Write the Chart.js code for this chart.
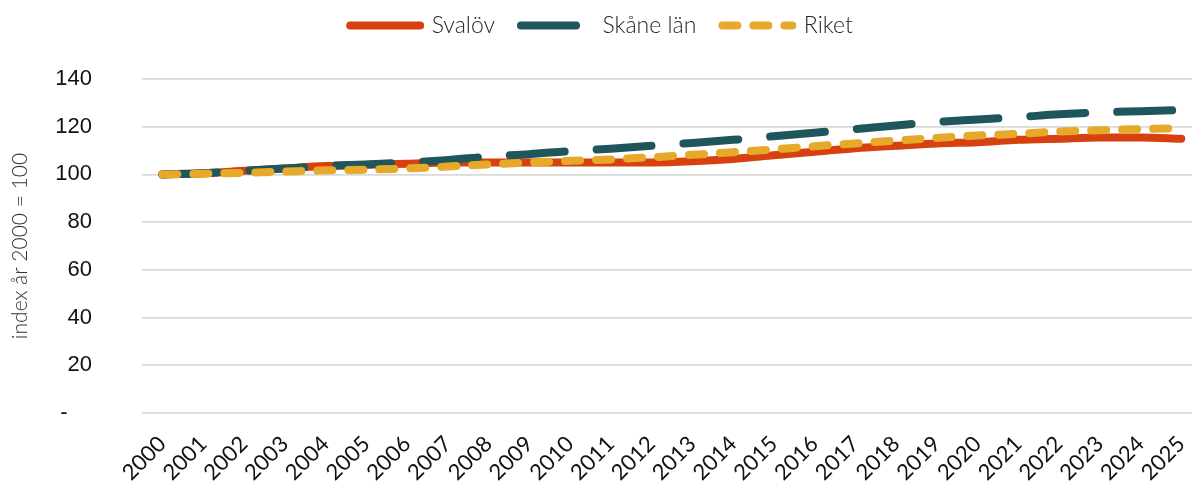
<!DOCTYPE html>
<html>
<head>
<meta charset="utf-8">
<script src="https://cdn.jsdelivr.net/npm/chart.js@4.4.1/dist/chart.umd.min.js"></script>
<style>
  html, body { margin: 0; padding: 0; background: #fff; overflow: hidden; }
  /* plot area runs a little past the right edge, as in the original export */
  #wrap { width: 1210px; height: 484px; }
</style>
</head>
<body>
<div id="wrap"><canvas id="chart"></canvas></div>
<script>
/* ================= DATA ================= */
const years = ['2000', '2001', '2002', '2003', '2004', '2005', '2006', '2007', '2008', '2009',
    '2010', '2011', '2012', '2013', '2014', '2015', '2016', '2017', '2018', '2019',
    '2020', '2021', '2022', '2023', '2024', '2025'];

const svalov = [100, 100.5, 101.5, 102.5, 103.5, 104, 104.5, 105, 105, 105,
    105, 105, 105, 105.5, 106.5, 108, 109.5, 111, 112, 113,
    113.5, 114.5, 115, 115.5, 115.5, 115];

const skane = [100, 100.5, 101.5, 102.5, 103.5, 104.2, 105, 106, 107.5, 108.5,
    109.8, 110.8, 112, 113.2, 114.5, 116, 117.5, 119, 120.5, 122,
    123, 124, 125.2, 126, 126.5, 127];

const riket = [100, 100.3, 100.7, 101.2, 101.7, 102, 102.5, 103.3, 104.2, 105,
    105.7, 106.3, 107.2, 108.2, 109.3, 110.5, 111.8, 113, 114.2, 115.3,
    116.3, 117, 118, 118.5, 119, 119.3];

const yTicks = [0, 20, 40, 60, 80, 100, 120, 140];

/* ================= CHART ================= */
const lightFont = '"Lato", "Open Sans", sans-serif';
const LEGEND_LIFT = 32;
const LEGEND_SHIFT = -6;
const X_AXIS_HEIGHT = 71;
const Y_AXIS_WIDTH = 134;

function lineSet(label, data, color, dash, order) {
    return {
        label,
        data,
        borderColor: color,
        backgroundColor: color,
        borderWidth: 8,
        borderDash: dash,
        borderCapStyle: 'round',
        pointRadius: 0,
        pointStyle: 'line',
        tension: 0.4,
        cubicInterpolationMode: 'monotone',
        fill: false,
        order
    };
}

// legend samples need the dataset's dash + round caps
function legendLabels(chart) {
    return chart.data.datasets.map((ds, i) => ({
        text: ds.label,
        datasetIndex: i,
        strokeStyle: ds.borderColor,
        fillStyle: ds.borderColor,
        lineWidth: ds.borderWidth,
        lineDash: ds.borderDash,
        lineCap: 'round',
        pointStyle: 'line',
        fontColor: '#262626',
        hidden: false
    }));
}

const moveLegend = {
    id: 'moveLegend',
    afterLayout(chart) {
        const lg = chart.legend;
        lg.top -= LEGEND_LIFT;
        lg.bottom -= LEGEND_LIFT;
        lg.left += LEGEND_SHIFT;
        lg.right += LEGEND_SHIFT;
    }
};

new Chart(document.getElementById('chart'), {
    type: 'line',
    data: {
        labels: years,
        datasets: [
            lineSet('Svalöv', svalov, '#D7410F', [], 2),
            lineSet('Skåne län', skane, '#1F565B', [55, 32], 1),
            lineSet('Riket', riket, '#E6A92A', [15, 16], 0)
        ]
    },
    plugins: [moveLegend],
    options: {
        responsive: true,
        maintainAspectRatio: false,
        animation: false,
        layout: { padding: { left: 8, right: 3, top: 20, bottom: 0 } },
        plugins: {
            legend: {
                position: 'top',
                labels: {
                    usePointStyle: true,
                    pointStyleWidth: 70,
                    boxHeight: 8,
                    padding: 26,
                    font: { family: lightFont, size: 23, weight: 300 },
                    generateLabels: legendLabels
                }
            },
            tooltip: { enabled: false }
        },
        scales: {
            x: {
                offset: true,
                grid: { display: false },
                border: { display: false },
                ticks: {
                    minRotation: 45,
                    maxRotation: 45,
                    autoSkip: false,
                    padding: 10,
                    color: '#111',
                    font: { family: lightFont, size: 22 }
                },
                // labels may spill over the y axis and the bottom edge, like the original
                afterFit: scale => {
                    scale.paddingLeft = 0;
                    scale.height = X_AXIS_HEIGHT;
                }
            },
            y: {
                min: 0,
                max: 140,
                afterBuildTicks: axis => { axis.ticks = yTicks.map(v => ({ value: v })); },
                afterFit: scale => { scale.width = Y_AXIS_WIDTH; },
                grid: { color: '#d9d9d9', lineWidth: 1.8, drawTicks: false },
                border: { display: false },
                ticks: {
                    padding: 50,
                    color: '#111',
                    font: { family: '"Liberation Sans", Arial, sans-serif', size: 22 },
                    callback: v => v === 0 ? '-    ' : v
                },
                title: {
                    display: true,
                    text: 'index år 2000 = 100',
                    color: '#333',
                    font: { family: lightFont, size: 21, weight: 300 },
                    padding: { top: 0, bottom: 22 }
                }
            }
        }
    }
});
</script>
</body>
</html>
